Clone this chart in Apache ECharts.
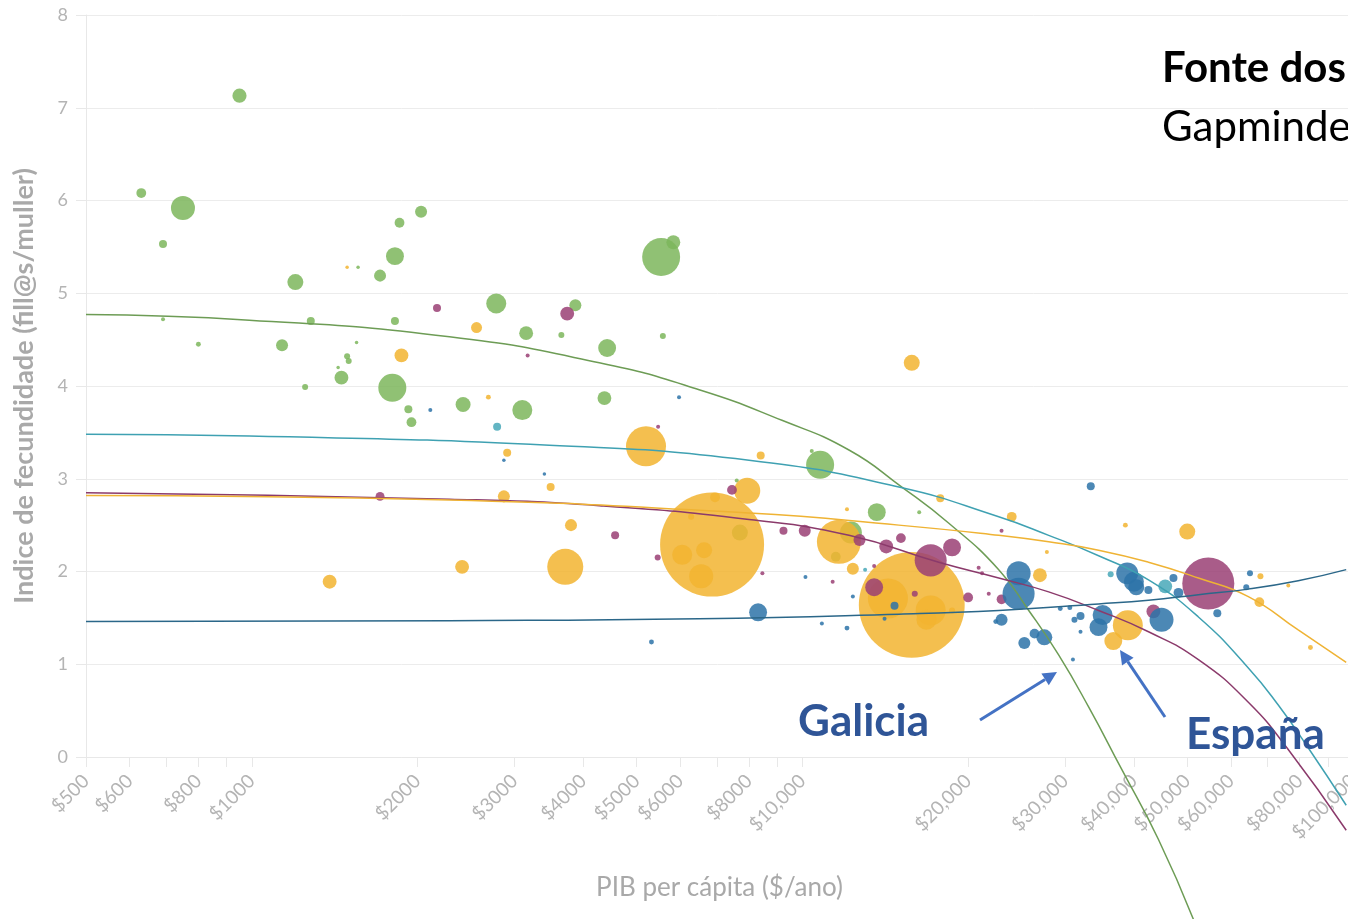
<!DOCTYPE html>
<html>
<head>
<meta charset="utf-8">
<title>Fecundidade e PIB per cápita</title>
<script src="https://cdn.jsdelivr.net/npm/echarts@6/dist/echarts.min.js"></script>
<style>
  html, body { margin: 0; padding: 0; background: #ffffff; }
  #chart { width: 1348px; height: 919px; }
</style>
</head>
<body>
<div id="chart"></div>
<script>
// [PIB per cápita ($), fillos por muller, poboación (millóns)]
const africa = [
  [950, 7.13, 25], [630, 6.08, 12], [750, 5.92, 72], [690, 5.53, 8], [1200, 5.12, 32],
  [1710, 5.19, 18], [1820, 5.40, 40], [1855, 5.76, 12], [2030, 5.88, 18], [1280, 4.70, 8],
  [690, 4.72, 2], [800, 4.45, 3], [1135, 4.44, 18], [1820, 4.70, 8], [1490, 4.32, 4.5],
  [1500, 4.27, 4.5], [1455, 4.09, 24], [1250, 3.99, 4.5], [1800, 3.98, 98], [1925, 3.75, 8],
  [1950, 3.61, 12], [1435, 4.20, 1], [1550, 4.47, 1], [1560, 5.28, 1], [5540, 5.39, 180],
  [5830, 5.55, 24], [2780, 4.89, 50], [3870, 4.87, 18], [3150, 4.57, 24], [3650, 4.55, 4.5],
  [5580, 4.54, 4.5], [4420, 4.41, 40], [4370, 3.87, 24], [2420, 3.80, 28], [3100, 3.74, 50],
  [10770, 3.15, 98], [10400, 3.30, 2], [7600, 2.98, 2], [7700, 2.42, 32], [13650, 2.64, 40],
  [12250, 2.42, 60], [11500, 2.16, 12], [16300, 2.64, 2]
];
const asia = [
  [1490, 5.28, 1], [1870, 4.33, 24], [2560, 4.63, 15], [2690, 3.88, 3], [5200, 3.35, 200],
  [2910, 3.28, 8], [8400, 3.25, 8], [3490, 2.91, 8], [2870, 2.81, 18], [3800, 2.50, 18],
  [2410, 2.05, 24], [1385, 1.89, 24], [3710, 2.05, 162], [6855, 2.29, 1350], [7940, 2.87, 85],
  [6940, 2.80, 12], [6050, 2.18, 50], [6630, 2.23, 32], [6550, 1.95, 72], [6280, 2.59, 4.5],
  [12050, 2.67, 2], [11650, 2.32, 242], [12350, 2.03, 18], [17800, 2.79, 8], [15800, 1.64, 1400],
  [14300, 1.71, 200], [17100, 1.58, 112], [16800, 1.48, 50], [18700, 1.58, 4.5], [15800, 4.25, 32],
  [24000, 2.59, 12], [38600, 2.50, 3], [50000, 2.43, 32], [27000, 1.96, 24], [39000, 1.42, 112],
  [36700, 1.25, 40], [67900, 1.95, 4.5], [67600, 1.67, 12], [83700, 1.18, 3], [76300, 1.85, 2],
  [27800, 2.21, 2]
];
const americas = [
  [2170, 4.84, 8], [3740, 4.78, 24], [3170, 4.33, 2], [1710, 2.81, 10], [4570, 2.39, 8],
  [5460, 2.15, 4.5], [7450, 2.88, 12], [8460, 1.98, 2], [9240, 2.44, 8], [10100, 2.44, 18],
  [12700, 2.34, 18], [14200, 2.27, 24], [15100, 2.36, 12], [17100, 2.12, 128], [18700, 2.26, 40],
  [11350, 1.89, 2], [13500, 2.06, 2], [13500, 1.83, 40], [16000, 1.76, 4.5], [20000, 1.72, 12],
  [20900, 2.04, 2], [21200, 1.98, 2], [21800, 1.76, 2], [23000, 2.44, 2], [23000, 1.70, 12],
  [43400, 1.57, 24], [54600, 1.87, 338], [5470, 3.56, 2]
];
const europe = [
  [2110, 3.74, 2], [5970, 3.88, 2], [2870, 3.20, 1], [3400, 3.05, 1], [8310, 1.56, 40],
  [14700, 1.63, 8], [5320, 1.24, 3], [12350, 1.73, 2], [10850, 1.44, 2], [12050, 1.39, 3],
  [22450, 1.46, 3], [10130, 1.94, 2], [33400, 2.92, 8], [24700, 1.98, 72], [24700, 1.76, 128],
  [23000, 1.48, 18], [25300, 1.23, 18], [27500, 1.29, 32], [26400, 1.33, 12], [31000, 1.05, 2],
  [29400, 1.60, 3], [30600, 1.61, 3], [32000, 1.52, 8], [31200, 1.48, 4.5], [32000, 1.35, 2],
  [35100, 1.53, 50], [34500, 1.40, 40], [38900, 1.98, 60], [40000, 1.89, 50], [40400, 1.83, 32],
  [42500, 1.80, 8], [47200, 1.93, 8], [48200, 1.77, 12], [44900, 1.48, 72], [56700, 1.55, 8],
  [65000, 1.98, 4.5], [64000, 1.83, 4.5], [14100, 1.49, 2]
];
const oceania = [[2790, 3.56, 8], [13000, 2.02, 2], [36300, 1.97, 4.5], [45600, 1.84, 24]];

// Curvas de tendencia por rexión
const trendAfrica = [
  [500, 4.77], [990, 4.71], [2286, 4.53], [4277, 4.25], [6494, 3.96], [9180, 3.63],
  [12150, 3.31], [15160, 2.91], [18450, 2.52], [22730, 2.02], [25770, 1.58], [29200, 1.10],
  [33100, 0.54], [37830, -0.11], [44330, -0.89], [51300, -1.75]
];
const trendOceania = [
  [500, 3.48], [990, 3.46], [3471, 3.36], [8000, 3.20], [14970, 2.91], [22730, 2.59],
  [28010, 2.39], [34510, 2.17], [42520, 1.91], [52390, 1.51], [64550, 0.96], [73160, 0.56],
  [82910, 0.10], [97200, -0.52]
];
const trendAmericas = [
  [500, 2.85], [2286, 2.78], [4277, 2.71], [8000, 2.56], [12150, 2.39], [17690, 2.10],
  [22730, 1.93], [28010, 1.78], [34510, 1.58], [42520, 1.35], [52390, 1.05], [64550, 0.59],
  [76270, 0.08], [97200, -0.79]
];
const trendAsia = [
  [500, 2.82], [2286, 2.77], [8000, 2.63], [14970, 2.50], [22730, 2.39], [28010, 2.32],
  [34510, 2.23], [42520, 2.10], [52390, 1.93], [64550, 1.73], [79520, 1.37], [97200, 1.02]
];
const trendEurope = [
  [500, 1.46], [2286, 1.47], [6494, 1.49], [14970, 1.54], [22730, 1.58], [34510, 1.65],
  [42520, 1.69], [52390, 1.75], [64550, 1.81], [79520, 1.90], [97200, 2.02]
];

const xTickValues = [500, 600, 700, 800, 900, 1000, 2000, 3000, 4000, 5000, 6000, 7000, 8000, 9000,
  10000, 20000, 30000, 40000, 50000, 60000, 70000, 80000, 90000, 100000];
const xLabelValues = [500, 600, 800, 1000, 2000, 3000, 4000, 5000, 6000, 8000,
  10000, 20000, 30000, 40000, 50000, 60000, 80000, 100000];

const colors = {
  africa: '#7cb65c', asia: '#f2b430', americas: '#9a3f74', europe: '#2d73a8', oceania: '#48a8b8'
};
const trendColors = {
  africa: '#6d9c55', asia: '#efb334', americas: '#8b3a6b', europe: '#2b6789', oceania: '#3fa1b2'
};

const AXIS_GRAY = '#e8e8e8';
const TEXT_GRAY = '#b4b4b4';

function bubbleSeries(name, data, color) {
  const sorted = data.slice().sort((a, b) => b[2] - a[2]);
  return {
    name, type: 'scatter', data: sorted, z: 2,
    symbolSize: d => Math.max(3.5, 2.83 * Math.sqrt(d[2])),
    itemStyle: { color, opacity: 0.85 },
    emphasis: { disabled: true }
  };
}
function trendSeries(name, data, color) {
  return {
    name, type: 'line', data, smooth: 0.5, symbol: 'none', clip: false, z: 4,
    lineStyle: { color, width: 1.5 },
    emphasis: { disabled: true }, silent: true
  };
}

function money(v) {
  return v < 10000 ? '$' + v : '$' + v.toLocaleString('en-US');
}

const chart = echarts.init(document.getElementById('chart'), null, { renderer: 'canvas' });
chart.setOption({
  animation: false,
  backgroundColor: '#ffffff',
  textStyle: { fontFamily: 'Lato, "Open Sans", sans-serif' },
  grid: { left: 86, right: -5, top: 15, bottom: 162, containLabel: false, outerBoundsMode: 'none' },
  xAxis: {
    type: 'log', logBase: 10, min: 500, max: 100000,
    name: 'PIB per cápita ($/ano)', nameLocation: 'middle', nameGap: 118,
    nameTextStyle: { color: '#a9a9a9', fontSize: 26, fontFamily: 'Lato' },
    axisLine: { show: true, lineStyle: { color: AXIS_GRAY } },
    axisTick: { show: true, customValues: xTickValues, length: 10, lineStyle: { color: AXIS_GRAY } },
    axisLabel: {
      customValues: xLabelValues, rotate: 45, margin: 21, color: TEXT_GRAY, fontSize: 19,
      fontFamily: 'Lato', formatter: v => money(Math.round(v))
    },
    splitLine: { show: false }
  },
  yAxis: {
    type: 'value', min: 0, max: 8, interval: 1,
    name: 'Indice de fecundidade (fill@s/muller)', nameLocation: 'middle', nameGap: 48,
    nameTextStyle: { color: '#a9a9a9', fontSize: 27, fontWeight: 'bold', fontFamily: 'Lato' },
    axisLine: { show: true, lineStyle: { color: AXIS_GRAY } },
    axisTick: { show: true, length: 10, lineStyle: { color: AXIS_GRAY } },
    axisLabel: { color: TEXT_GRAY, fontSize: 18, margin: 18, fontFamily: 'Lato' },
    splitLine: { show: true, lineStyle: { color: '#ececec' } }
  },
  series: [
    bubbleSeries('África', africa, colors.africa),
    bubbleSeries('Asia', asia, colors.asia),
    bubbleSeries('América', americas, colors.americas),
    bubbleSeries('Europa', europe, colors.europe),
    bubbleSeries('Oceanía', oceania, colors.oceania),
    trendSeries('Tendencia África', trendAfrica, trendColors.africa),
    trendSeries('Tendencia Oceanía', trendOceania, trendColors.oceania),
    trendSeries('Tendencia América', trendAmericas, trendColors.americas),
    trendSeries('Tendencia Asia', trendAsia, trendColors.asia),
    trendSeries('Tendencia Europa', trendEurope, trendColors.europe)
  ],
  graphic: [
    { type: 'text', x: 1162, y: 68, z: 10,
      style: { text: 'Fonte dos datos:', fill: '#000000', font: 'bold 42px Lato',
        textAlign: 'left', textVerticalAlign: 'middle', align: 'left', verticalAlign: 'middle' } },
    { type: 'text', x: 1162, y: 127, z: 10,
      style: { text: 'Gapminder', fill: '#000000', font: '42px Lato',
        textAlign: 'left', textVerticalAlign: 'middle', align: 'left', verticalAlign: 'middle' } },
    { type: 'text', x: 798, y: 722, z: 10,
      style: { text: 'Galicia', fill: '#2f5597', font: 'bold 44px Lato',
        textAlign: 'left', textVerticalAlign: 'middle', align: 'left', verticalAlign: 'middle' } },
    { type: 'text', x: 1186, y: 735, z: 10,
      style: { text: 'España', fill: '#2f5597', font: 'bold 44px Lato',
        textAlign: 'left', textVerticalAlign: 'middle', align: 'left', verticalAlign: 'middle' } },
    // frechas
    { type: 'line', z: 10, shape: { x1: 980, y1: 720, x2: 1045, y2: 679.4 },
      style: { stroke: '#4472c4', lineWidth: 3 } },
    { type: 'polygon', z: 10, shape: { points: [[1057, 672], [1048.8, 685.3], [1041.4, 673.5]] },
      style: { fill: '#4472c4' } },
    { type: 'line', z: 10, shape: { x1: 1165, y1: 717, x2: 1127.8, y2: 661.6 },
      style: { stroke: '#4472c4', lineWidth: 3 } },
    { type: 'polygon', z: 10, shape: { points: [[1120, 650], [1133.6, 657.7], [1122.0, 665.5]] },
      style: { fill: '#4472c4' } }
  ]
});
</script>
</body>
</html>
